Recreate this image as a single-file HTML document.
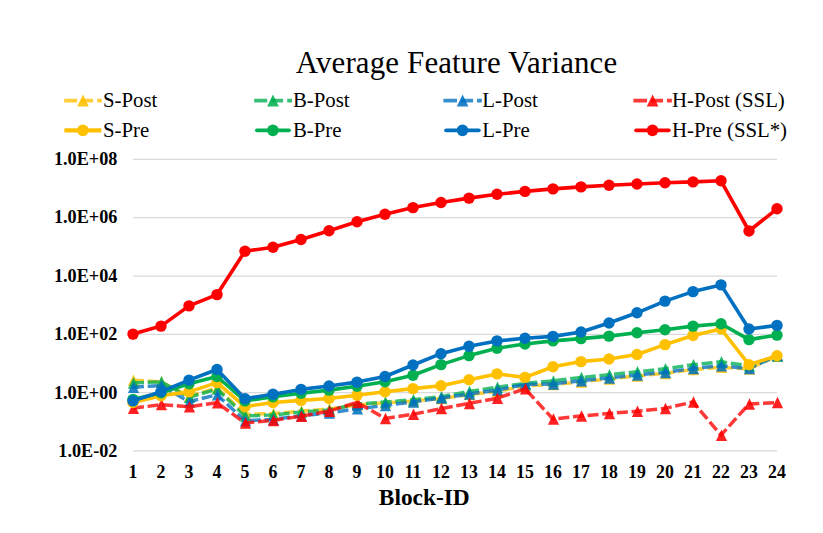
<!DOCTYPE html>
<html lang="en"><head><meta charset="utf-8"><title>Average Feature Variance</title>
<style>html,body{margin:0;padding:0;background:#fff}body{width:823px;height:533px;overflow:hidden}svg{display:block}text{font-family:"Liberation Serif",serif;fill:#000}.b{font-weight:bold}</style></head><body>
<svg width="823" height="533" viewBox="0 0 823 533">
<rect width="823" height="533" fill="#fff"/>
<g stroke="#D9D9D9" stroke-width="1.25" fill="none">
<line x1="133" x2="777" y1="159.45" y2="159.45"/>
<line x1="133" x2="777" y1="217.7" y2="217.7"/>
<line x1="133" x2="777" y1="276.0" y2="276.0"/>
<line x1="133" x2="777" y1="334.3" y2="334.3"/>
<line x1="133" x2="777" y1="392.55" y2="392.55"/>
<line x1="133" x2="777" y1="450.8" y2="450.8"/>
</g>
<polyline points="133.00,380.20 161.00,381.90 189.00,396.40 217.00,387.90 245.00,414.30" fill="none" stroke="#FFC000" stroke-opacity="0.78" stroke-width="3.5" stroke-dasharray="11 3.7" stroke-linejoin="round"/>
<polyline points="245.00,414.30 273.00,413.60 301.00,411.10 329.00,409.10 357.00,404.90 385.00,402.90 413.00,401.10 441.00,398.40 469.00,394.60 497.00,391.50 525.00,385.90 553.00,384.40 581.00,381.90 609.00,378.90 637.00,375.90 665.00,373.40 693.00,369.60 721.00,367.20 749.00,368.90 777.00,355.90" fill="none" stroke="#FFC000" stroke-opacity="0.78" stroke-width="3.5" stroke-dasharray="11 3.7" stroke-dashoffset="5.3" stroke-linejoin="round"/>
<path d="M133.50 374.45L139.10 385.95L127.90 385.95ZM161.50 376.15L167.10 387.65L155.90 387.65ZM189.50 390.65L195.10 402.15L183.90 402.15ZM217.50 382.15L223.10 393.65L211.90 393.65ZM245.50 408.55L251.10 420.05L239.90 420.05ZM273.50 407.85L279.10 419.35L267.90 419.35ZM301.50 405.35L307.10 416.85L295.90 416.85ZM329.50 403.35L335.10 414.85L323.90 414.85ZM357.50 399.15L363.10 410.65L351.90 410.65ZM385.50 397.15L391.10 408.65L379.90 408.65ZM413.50 395.35L419.10 406.85L407.90 406.85ZM441.50 392.65L447.10 404.15L435.90 404.15ZM469.50 388.85L475.10 400.35L463.90 400.35ZM497.50 385.75L503.10 397.25L491.90 397.25ZM525.50 380.15L531.10 391.65L519.90 391.65ZM553.50 378.65L559.10 390.15L547.90 390.15ZM581.50 376.15L587.10 387.65L575.90 387.65ZM609.50 373.15L615.10 384.65L603.90 384.65ZM637.50 370.15L643.10 381.65L631.90 381.65ZM665.50 367.65L671.10 379.15L659.90 379.15ZM693.50 363.85L699.10 375.35L687.90 375.35ZM721.50 361.45L727.10 372.95L715.90 372.95ZM749.50 363.15L755.10 374.65L743.90 374.65ZM777.50 350.15L783.10 361.65L771.90 361.65Z" fill="#FFC000" fill-opacity="0.87"/>
<polyline points="133.00,383.00 161.00,381.80 189.00,397.30 217.00,389.00 245.00,415.90 273.00,415.10 301.00,412.00 329.00,409.90 357.00,404.30 385.00,402.00 413.00,399.70 441.00,396.70 469.00,391.50 497.00,387.20 525.00,383.40 553.00,380.90 581.00,377.50 609.00,374.80 637.00,371.80 665.00,368.80 693.00,364.70 721.00,361.80 749.00,365.90 777.00,355.90" fill="none" stroke="#00B050" stroke-opacity="0.78" stroke-width="3.5" stroke-dasharray="11 3.7" stroke-linejoin="round"/>
<path d="M133.50 377.25L139.10 388.75L127.90 388.75ZM161.50 376.05L167.10 387.55L155.90 387.55ZM189.50 391.55L195.10 403.05L183.90 403.05ZM217.50 383.25L223.10 394.75L211.90 394.75ZM245.50 410.15L251.10 421.65L239.90 421.65ZM273.50 409.35L279.10 420.85L267.90 420.85ZM301.50 406.25L307.10 417.75L295.90 417.75ZM329.50 404.15L335.10 415.65L323.90 415.65ZM357.50 398.55L363.10 410.05L351.90 410.05ZM385.50 396.25L391.10 407.75L379.90 407.75ZM413.50 393.95L419.10 405.45L407.90 405.45ZM441.50 390.95L447.10 402.45L435.90 402.45ZM469.50 385.75L475.10 397.25L463.90 397.25ZM497.50 381.45L503.10 392.95L491.90 392.95ZM525.50 377.65L531.10 389.15L519.90 389.15ZM553.50 375.15L559.10 386.65L547.90 386.65ZM581.50 371.75L587.10 383.25L575.90 383.25ZM609.50 369.05L615.10 380.55L603.90 380.55ZM637.50 366.05L643.10 377.55L631.90 377.55ZM665.50 363.05L671.10 374.55L659.90 374.55ZM693.50 358.95L699.10 370.45L687.90 370.45ZM721.50 356.05L727.10 367.55L715.90 367.55ZM749.50 360.15L755.10 371.65L743.90 371.65ZM777.50 350.15L783.10 361.65L771.90 361.65Z" fill="#00B050" fill-opacity="0.87"/>
<polyline points="133.00,387.20 161.00,385.50 189.00,401.70 217.00,394.70 245.00,420.70 273.00,419.40 301.00,415.70 329.00,413.00 357.00,408.80 385.00,405.50 413.00,401.90 441.00,398.10 469.00,394.10 497.00,390.10 525.00,384.50 553.00,383.95 581.00,380.70 609.00,377.95 637.00,374.95 665.00,372.40 693.00,368.40 721.00,365.70 749.00,368.60 777.00,355.60" fill="none" stroke="#0070C0" stroke-opacity="0.78" stroke-width="3.5" stroke-dasharray="11 3.7" stroke-linejoin="round"/>
<path d="M133.50 381.45L139.10 392.95L127.90 392.95ZM161.50 379.75L167.10 391.25L155.90 391.25ZM189.50 395.95L195.10 407.45L183.90 407.45ZM217.50 388.95L223.10 400.45L211.90 400.45ZM245.50 414.95L251.10 426.45L239.90 426.45ZM273.50 413.65L279.10 425.15L267.90 425.15ZM301.50 409.95L307.10 421.45L295.90 421.45ZM329.50 407.25L335.10 418.75L323.90 418.75ZM357.50 403.05L363.10 414.55L351.90 414.55ZM385.50 399.75L391.10 411.25L379.90 411.25ZM413.50 396.15L419.10 407.65L407.90 407.65ZM441.50 392.35L447.10 403.85L435.90 403.85ZM469.50 388.35L475.10 399.85L463.90 399.85ZM497.50 384.35L503.10 395.85L491.90 395.85ZM525.50 378.75L531.10 390.25L519.90 390.25ZM553.50 378.20L559.10 389.70L547.90 389.70ZM581.50 374.95L587.10 386.45L575.90 386.45ZM609.50 372.20L615.10 383.70L603.90 383.70ZM637.50 369.20L643.10 380.70L631.90 380.70ZM665.50 366.65L671.10 378.15L659.90 378.15ZM693.50 362.65L699.10 374.15L687.90 374.15ZM721.50 359.95L727.10 371.45L715.90 371.45ZM749.50 362.85L755.10 374.35L743.90 374.35ZM777.50 349.85L783.10 361.35L771.90 361.35Z" fill="#0070C0" fill-opacity="0.87"/>
<polyline points="133.00,408.30 161.00,404.60 189.00,406.80 217.00,402.70 245.00,423.00 273.00,420.40 301.00,416.20 329.00,411.20 357.00,402.40 385.00,418.40 413.00,414.30 441.00,408.60 469.00,403.40 497.00,398.30 525.00,388.75 553.00,419.00 581.00,416.00 609.00,413.50 637.00,411.25 665.00,408.40 693.00,402.00 721.00,435.20 749.00,404.00 777.00,402.50" fill="none" stroke="#FF0000" stroke-opacity="0.78" stroke-width="3.5" stroke-dasharray="11 3.7" stroke-linejoin="round"/>
<path d="M133.50 402.55L139.10 414.05L127.90 414.05ZM161.50 398.85L167.10 410.35L155.90 410.35ZM189.50 401.05L195.10 412.55L183.90 412.55ZM217.50 396.95L223.10 408.45L211.90 408.45ZM245.50 417.25L251.10 428.75L239.90 428.75ZM273.50 414.65L279.10 426.15L267.90 426.15ZM301.50 410.45L307.10 421.95L295.90 421.95ZM329.50 405.45L335.10 416.95L323.90 416.95ZM357.50 396.65L363.10 408.15L351.90 408.15ZM385.50 412.65L391.10 424.15L379.90 424.15ZM413.50 408.55L419.10 420.05L407.90 420.05ZM441.50 402.85L447.10 414.35L435.90 414.35ZM469.50 397.65L475.10 409.15L463.90 409.15ZM497.50 392.55L503.10 404.05L491.90 404.05ZM525.50 383.00L531.10 394.50L519.90 394.50ZM553.50 413.25L559.10 424.75L547.90 424.75ZM581.50 410.25L587.10 421.75L575.90 421.75ZM609.50 407.75L615.10 419.25L603.90 419.25ZM637.50 405.50L643.10 417.00L631.90 417.00ZM665.50 402.65L671.10 414.15L659.90 414.15ZM693.50 396.25L699.10 407.75L687.90 407.75ZM721.50 429.45L727.10 440.95L715.90 440.95ZM749.50 398.25L755.10 409.75L743.90 409.75ZM777.50 396.75L783.10 408.25L771.90 408.25Z" fill="#FF0000" fill-opacity="0.87"/>
<g fill="#FFC000">
<polyline points="133.00,402.50 161.00,395.80 189.00,391.90 217.00,382.60 245.00,406.60 273.00,402.50 301.00,400.40 329.00,398.50 357.00,395.20 385.00,391.80 413.00,388.60 441.00,385.70 469.00,379.70 497.00,373.90 525.00,377.40 553.00,366.80 581.00,361.60 609.00,359.00 637.00,354.50 665.00,344.60 693.00,335.50 721.00,329.00 749.00,364.70 777.00,355.80" fill="none" stroke="#FFC000" stroke-width="3.6" stroke-linejoin="round" stroke-linecap="round"/>
<circle cx="133.00" cy="402.50" r="5.7"/>
<circle cx="161.00" cy="395.80" r="5.7"/>
<circle cx="189.00" cy="391.90" r="5.7"/>
<circle cx="217.00" cy="382.60" r="5.7"/>
<circle cx="245.00" cy="406.60" r="5.7"/>
<circle cx="273.00" cy="402.50" r="5.7"/>
<circle cx="301.00" cy="400.40" r="5.7"/>
<circle cx="329.00" cy="398.50" r="5.7"/>
<circle cx="357.00" cy="395.20" r="5.7"/>
<circle cx="385.00" cy="391.80" r="5.7"/>
<circle cx="413.00" cy="388.60" r="5.7"/>
<circle cx="441.00" cy="385.70" r="5.7"/>
<circle cx="469.00" cy="379.70" r="5.7"/>
<circle cx="497.00" cy="373.90" r="5.7"/>
<circle cx="525.00" cy="377.40" r="5.7"/>
<circle cx="553.00" cy="366.80" r="5.7"/>
<circle cx="581.00" cy="361.60" r="5.7"/>
<circle cx="609.00" cy="359.00" r="5.7"/>
<circle cx="637.00" cy="354.50" r="5.7"/>
<circle cx="665.00" cy="344.60" r="5.7"/>
<circle cx="693.00" cy="335.50" r="5.7"/>
<circle cx="721.00" cy="329.00" r="5.7"/>
<circle cx="749.00" cy="364.70" r="5.7"/>
<circle cx="777.00" cy="355.80" r="5.7"/>
</g>
<g fill="#00B050">
<polyline points="133.00,399.40 161.00,392.80 189.00,383.70 217.00,376.50 245.00,400.90 273.00,396.80 301.00,393.20 329.00,390.10 357.00,386.20 385.00,381.70 413.00,375.30 441.00,364.60 469.00,355.60 497.00,348.20 525.00,344.00 553.00,340.90 581.00,338.60 609.00,336.10 637.00,332.80 665.00,329.80 693.00,326.10 721.00,323.80 749.00,339.60 777.00,335.10" fill="none" stroke="#00B050" stroke-width="3.6" stroke-linejoin="round" stroke-linecap="round"/>
<circle cx="133.00" cy="399.40" r="5.7"/>
<circle cx="161.00" cy="392.80" r="5.7"/>
<circle cx="189.00" cy="383.70" r="5.7"/>
<circle cx="217.00" cy="376.50" r="5.7"/>
<circle cx="245.00" cy="400.90" r="5.7"/>
<circle cx="273.00" cy="396.80" r="5.7"/>
<circle cx="301.00" cy="393.20" r="5.7"/>
<circle cx="329.00" cy="390.10" r="5.7"/>
<circle cx="357.00" cy="386.20" r="5.7"/>
<circle cx="385.00" cy="381.70" r="5.7"/>
<circle cx="413.00" cy="375.30" r="5.7"/>
<circle cx="441.00" cy="364.60" r="5.7"/>
<circle cx="469.00" cy="355.60" r="5.7"/>
<circle cx="497.00" cy="348.20" r="5.7"/>
<circle cx="525.00" cy="344.00" r="5.7"/>
<circle cx="553.00" cy="340.90" r="5.7"/>
<circle cx="581.00" cy="338.60" r="5.7"/>
<circle cx="609.00" cy="336.10" r="5.7"/>
<circle cx="637.00" cy="332.80" r="5.7"/>
<circle cx="665.00" cy="329.80" r="5.7"/>
<circle cx="693.00" cy="326.10" r="5.7"/>
<circle cx="721.00" cy="323.80" r="5.7"/>
<circle cx="749.00" cy="339.60" r="5.7"/>
<circle cx="777.00" cy="335.10" r="5.7"/>
</g>
<g fill="#0070C0">
<polyline points="133.00,400.90 161.00,391.70 189.00,380.10 217.00,369.50 245.00,398.70 273.00,394.20 301.00,389.40 329.00,386.05 357.00,382.10 385.00,376.50 413.00,365.00 441.00,353.70 469.00,346.20 497.00,340.90 525.00,338.30 553.00,336.40 581.00,332.00 609.00,323.00 637.00,312.80 665.00,301.10 693.00,291.60 721.00,284.90 749.00,329.00 777.00,325.40" fill="none" stroke="#0070C0" stroke-width="3.6" stroke-linejoin="round" stroke-linecap="round"/>
<circle cx="133.00" cy="400.90" r="5.7"/>
<circle cx="161.00" cy="391.70" r="5.7"/>
<circle cx="189.00" cy="380.10" r="5.7"/>
<circle cx="217.00" cy="369.50" r="5.7"/>
<circle cx="245.00" cy="398.70" r="5.7"/>
<circle cx="273.00" cy="394.20" r="5.7"/>
<circle cx="301.00" cy="389.40" r="5.7"/>
<circle cx="329.00" cy="386.05" r="5.7"/>
<circle cx="357.00" cy="382.10" r="5.7"/>
<circle cx="385.00" cy="376.50" r="5.7"/>
<circle cx="413.00" cy="365.00" r="5.7"/>
<circle cx="441.00" cy="353.70" r="5.7"/>
<circle cx="469.00" cy="346.20" r="5.7"/>
<circle cx="497.00" cy="340.90" r="5.7"/>
<circle cx="525.00" cy="338.30" r="5.7"/>
<circle cx="553.00" cy="336.40" r="5.7"/>
<circle cx="581.00" cy="332.00" r="5.7"/>
<circle cx="609.00" cy="323.00" r="5.7"/>
<circle cx="637.00" cy="312.80" r="5.7"/>
<circle cx="665.00" cy="301.10" r="5.7"/>
<circle cx="693.00" cy="291.60" r="5.7"/>
<circle cx="721.00" cy="284.90" r="5.7"/>
<circle cx="749.00" cy="329.00" r="5.7"/>
<circle cx="777.00" cy="325.40" r="5.7"/>
</g>
<g fill="#FF0000">
<polyline points="133.00,334.10 161.00,326.10 189.00,305.90 217.00,294.60 245.00,251.20 273.00,247.30 301.00,239.50 329.00,230.70 357.00,221.70 385.00,214.30 413.00,207.60 441.00,202.50 469.00,198.10 497.00,194.30 525.00,191.40 553.00,188.90 581.00,186.90 609.00,185.20 637.00,183.95 665.00,182.80 693.00,181.90 721.00,180.80 749.00,231.00 777.00,208.80" fill="none" stroke="#FF0000" stroke-width="3.6" stroke-linejoin="round" stroke-linecap="round"/>
<circle cx="133.00" cy="334.10" r="5.7"/>
<circle cx="161.00" cy="326.10" r="5.7"/>
<circle cx="189.00" cy="305.90" r="5.7"/>
<circle cx="217.00" cy="294.60" r="5.7"/>
<circle cx="245.00" cy="251.20" r="5.7"/>
<circle cx="273.00" cy="247.30" r="5.7"/>
<circle cx="301.00" cy="239.50" r="5.7"/>
<circle cx="329.00" cy="230.70" r="5.7"/>
<circle cx="357.00" cy="221.70" r="5.7"/>
<circle cx="385.00" cy="214.30" r="5.7"/>
<circle cx="413.00" cy="207.60" r="5.7"/>
<circle cx="441.00" cy="202.50" r="5.7"/>
<circle cx="469.00" cy="198.10" r="5.7"/>
<circle cx="497.00" cy="194.30" r="5.7"/>
<circle cx="525.00" cy="191.40" r="5.7"/>
<circle cx="553.00" cy="188.90" r="5.7"/>
<circle cx="581.00" cy="186.90" r="5.7"/>
<circle cx="609.00" cy="185.20" r="5.7"/>
<circle cx="637.00" cy="183.95" r="5.7"/>
<circle cx="665.00" cy="182.80" r="5.7"/>
<circle cx="693.00" cy="181.90" r="5.7"/>
<circle cx="721.00" cy="180.80" r="5.7"/>
<circle cx="749.00" cy="231.00" r="5.7"/>
<circle cx="777.00" cy="208.80" r="5.7"/>
</g>
<text x="456.5" y="73.4" text-anchor="middle" font-size="30.9" textLength="321.4" lengthAdjust="spacing">Average Feature Variance</text>
<line x1="64.2" x2="101.8" y1="100.6" y2="100.6" stroke="#FFC000" stroke-opacity="0.78" stroke-width="3.9" stroke-dasharray="13 4 11.85 4.15 10"/><path d="M83.00 94.60L88.85 106.60L77.15 106.60Z" fill="#FFC000" fill-opacity="0.87"/>
<line x1="64.4" x2="101.25" y1="130.35" y2="130.35" stroke="#FFC000" stroke-width="4.1"/>
<circle cx="82.9" cy="130.3" r="5.85" fill="#FFC000"/>
<text x="103.0" y="107" font-size="20.8">S-Post</text>
<text x="103.0" y="137" font-size="20.8">S-Pre</text>
<line x1="254.2" x2="292.0" y1="100.6" y2="100.6" stroke="#00B050" stroke-opacity="0.78" stroke-width="3.9" stroke-dasharray="13 4 11.85 4.15 10"/><path d="M273.00 94.60L278.85 106.60L267.15 106.60Z" fill="#00B050" fill-opacity="0.87"/>
<line x1="256.9" x2="289.0" y1="130.3" y2="130.3" stroke="#00B050" stroke-width="3.8" stroke-linecap="round"/>
<circle cx="272.9" cy="130.3" r="5.85" fill="#00B050"/>
<text x="293.0" y="107" font-size="20.8">B-Post</text>
<text x="293.0" y="137" font-size="20.8">B-Pre</text>
<line x1="443.4" x2="481.8" y1="100.6" y2="100.6" stroke="#0070C0" stroke-opacity="0.78" stroke-width="3.9" stroke-dasharray="13.6 4 12.05 3.95 10"/><path d="M462.60 94.60L468.45 106.60L456.75 106.60Z" fill="#0070C0" fill-opacity="0.87"/>
<line x1="446.1" x2="478.8" y1="130.3" y2="130.3" stroke="#0070C0" stroke-width="3.8" stroke-linecap="round"/>
<circle cx="462.5" cy="130.3" r="5.85" fill="#0070C0"/>
<text x="482.3" y="107" font-size="20.8">L-Post</text>
<text x="482.3" y="137" font-size="20.8">L-Pre</text>
<line x1="633.4" x2="671.8" y1="100.6" y2="100.6" stroke="#FF0000" stroke-opacity="0.78" stroke-width="3.9" stroke-dasharray="13.6 4 12.05 3.95 10"/><path d="M652.60 94.60L658.45 106.60L646.75 106.60Z" fill="#FF0000" fill-opacity="0.87"/>
<line x1="636.1" x2="668.8" y1="130.3" y2="130.3" stroke="#FF0000" stroke-width="3.8" stroke-linecap="round"/>
<circle cx="652.5" cy="130.3" r="5.85" fill="#FF0000"/>
<text x="672.1" y="107" font-size="20.8">H-Post (SSL)</text>
<text x="672.1" y="137" font-size="20.8">H-Pre (SSL*)</text>
<text class="b" x="117.4" y="164.95" text-anchor="end" font-size="18.2">1.0E+08</text>
<text class="b" x="117.4" y="223.41" text-anchor="end" font-size="18.2">1.0E+06</text>
<text class="b" x="117.4" y="281.87" text-anchor="end" font-size="18.2">1.0E+04</text>
<text class="b" x="117.4" y="340.33" text-anchor="end" font-size="18.2">1.0E+02</text>
<text class="b" x="117.4" y="398.79" text-anchor="end" font-size="18.2">1.0E+00</text>
<text class="b" x="117.4" y="457.25" text-anchor="end" font-size="18.2">1.0E-02</text>
<text class="b" x="133.00" y="478" text-anchor="middle" font-size="17.8">1</text>
<text class="b" x="161.00" y="478" text-anchor="middle" font-size="17.8">2</text>
<text class="b" x="189.00" y="478" text-anchor="middle" font-size="17.8">3</text>
<text class="b" x="217.00" y="478" text-anchor="middle" font-size="17.8">4</text>
<text class="b" x="245.00" y="478" text-anchor="middle" font-size="17.8">5</text>
<text class="b" x="273.00" y="478" text-anchor="middle" font-size="17.8">6</text>
<text class="b" x="301.00" y="478" text-anchor="middle" font-size="17.8">7</text>
<text class="b" x="329.00" y="478" text-anchor="middle" font-size="17.8">8</text>
<text class="b" x="357.00" y="478" text-anchor="middle" font-size="17.8">9</text>
<text class="b" x="385.00" y="478" text-anchor="middle" font-size="17.8">10</text>
<text class="b" x="413.00" y="478" text-anchor="middle" font-size="17.8">11</text>
<text class="b" x="441.00" y="478" text-anchor="middle" font-size="17.8">12</text>
<text class="b" x="469.00" y="478" text-anchor="middle" font-size="17.8">13</text>
<text class="b" x="497.00" y="478" text-anchor="middle" font-size="17.8">14</text>
<text class="b" x="525.00" y="478" text-anchor="middle" font-size="17.8">15</text>
<text class="b" x="553.00" y="478" text-anchor="middle" font-size="17.8">16</text>
<text class="b" x="581.00" y="478" text-anchor="middle" font-size="17.8">17</text>
<text class="b" x="609.00" y="478" text-anchor="middle" font-size="17.8">18</text>
<text class="b" x="637.00" y="478" text-anchor="middle" font-size="17.8">19</text>
<text class="b" x="665.00" y="478" text-anchor="middle" font-size="17.8">20</text>
<text class="b" x="693.00" y="478" text-anchor="middle" font-size="17.8">21</text>
<text class="b" x="721.00" y="478" text-anchor="middle" font-size="17.8">22</text>
<text class="b" x="749.00" y="478" text-anchor="middle" font-size="17.8">23</text>
<text class="b" x="777.00" y="478" text-anchor="middle" font-size="17.8">24</text>
<text class="b" x="424.3" y="505" text-anchor="middle" font-size="23.4">Block-ID</text>
</svg></body></html>
